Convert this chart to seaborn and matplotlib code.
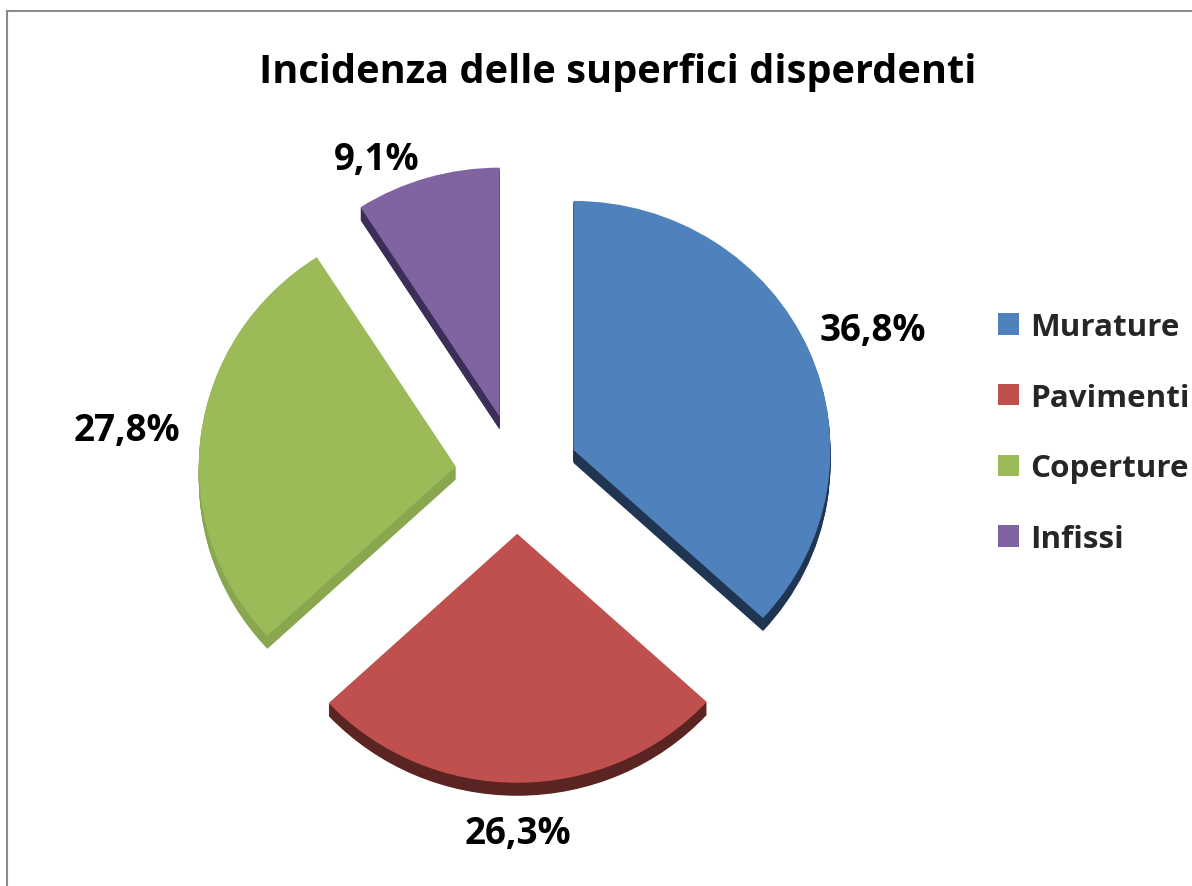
import numpy as np
import matplotlib
matplotlib.use("Agg")
import matplotlib.pyplot as plt
from matplotlib.patches import Patch, Rectangle
import seaborn as sns

sns.set_theme(style="white")
plt.rcParams["font.family"] = ["Open Sans", "DejaVu Sans"]
plt.rcParams["font.weight"] = "bold"

# Data
categories = ["Murature", "Pavimenti", "Coperture", "Infissi"]
shares = [36.8, 26.3, 27.8, 9.1]
pct_labels = ["36,8%", "26,3%", "27,8%", "9,1%"]

top_colors = ["#4F81BD", "#C0504D", "#9BBB59", "#8064A2"]
side_colors = ["#1F3552", "#5A2422", "#88A74F", "#3E2E57"]
label_radius = [1.50, 1.44, 1.53, 1.38]
label_turn = [-1.0, 0.0, 0.6, 7.0]  # degrees, nudges label placement

W, H = 1192, 887
fig = plt.figure(figsize=(W / 100, H / 100), dpi=100)
fig.patch.set_facecolor("white")

# pie geometry in pixels (slightly flattened vertically for a tilted look)
RX, RY = 257.0, 249.0
cx, cy = 517.0, 475.0
ax = fig.add_axes([0, 0, 1, 1])
xlim = (-cx / RX, (W - cx) / RX)
ylim = ((cy - H) / RY, cy / RY)

explode = [0.24] * len(shares)
depth = 13  # extrusion thickness in px

# side (extrusion) layers
for k in range(depth, 0, -1):
    ax.pie(shares, explode=explode, colors=side_colors, startangle=90,
           counterclock=False, radius=1.0, center=(0, -k / RY),
           wedgeprops=dict(linewidth=0, antialiased=True))

# top face
wedges, _ = ax.pie(shares, explode=explode, colors=top_colors, startangle=90,
                   counterclock=False, radius=1.0, center=(0, 0),
                   wedgeprops=dict(linewidth=0, antialiased=True))
ax.set_aspect("auto")
ax.set_xlim(*xlim)
ax.set_ylim(*ylim)
ax.axis("off")

# percentage labels
for w, lab, rd, turn in zip(wedges, pct_labels, label_radius, label_turn):
    mid = np.deg2rad((w.theta1 + w.theta2) / 2 + turn)
    ax.text(rd * np.cos(mid), rd * np.sin(mid), lab, ha="center", va="center",
            fontsize=26.5, fontweight="bold", color="black")

# title
fig.text(618 / W, 1 - 73 / H, "Incidenza delle superfici disperdenti",
         ha="center", va="center", fontsize=28.6, fontweight="bold", color="black")

# legend
handles = [Patch(facecolor=c, edgecolor="none") for c in top_colors]
fig.legend(handles, categories, loc="center left",
           bbox_to_anchor=(998 / W, 1 - 434 / H), frameon=False,
           handlelength=0.68, handleheight=0.68,
           handletextpad=0.33, labelspacing=1.3, borderpad=0, borderaxespad=0,
           prop=dict(weight="bold", size=22.6))

# chart area border
fig.patches.append(Rectangle((7 / W, -0.1), 1.2, 1 - 12 / H + 0.1,
                             transform=fig.transFigure, fill=False,
                             edgecolor="#8C8C8C", linewidth=1.5))

fig.savefig("out.png", dpi=100, facecolor="white")
